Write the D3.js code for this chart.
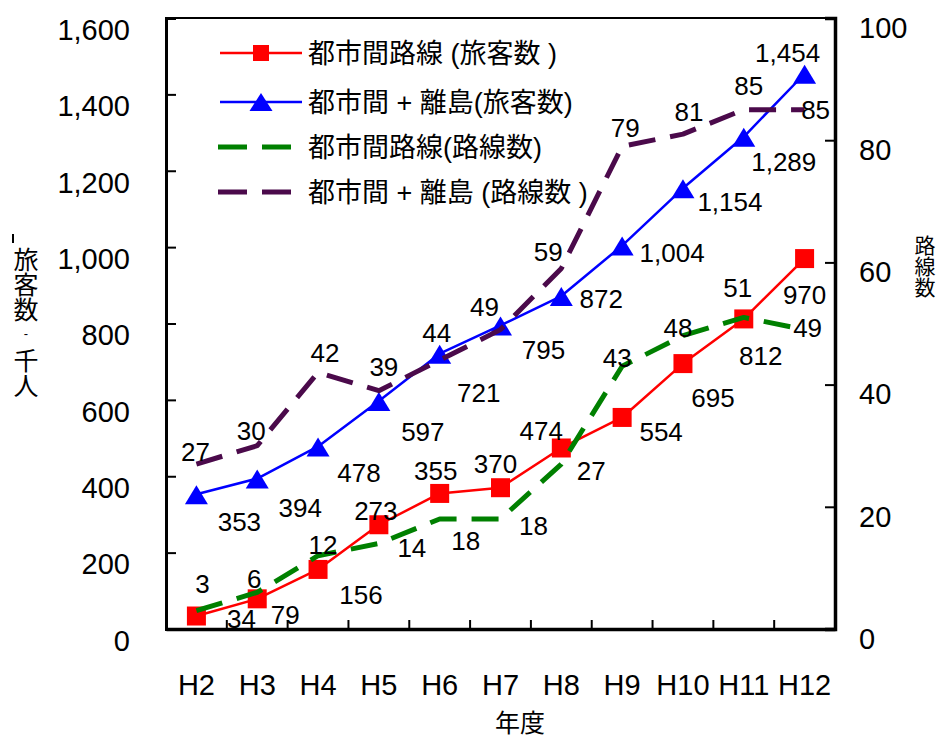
<!DOCTYPE html>
<html>
<head>
<meta charset="utf-8">
<script src="https://cdn.jsdelivr.net/npm/d3@7/dist/d3.min.js"></script>
<style>
  html, body { margin: 0; padding: 0; background: #fff; }
  svg { display: block; font-family: "Liberation Sans", Arial, "Noto Sans CJK JP", sans-serif; }
  .vert { writing-mode: vertical-rl; text-orientation: upright; }
</style>
</head>
<body>
<svg id="chart" width="942" height="740"></svg>
<script>
// ---- data ----
const categories = ["H2","H3","H4","H5","H6","H7","H8","H9","H10","H11","H12"];
const cityPassengers = [34, 79, 156, 273, 355, 370, 474, 554, 695, 812, 970];
const allPassengers = [353, 394, 478, 597, 721, 795, 872, 1004, 1154, 1289, 1454];
const cityRoutes = [3, 6, 12, 14, 18, 18, 27, 43, 48, 51, 49];
const allRoutes = [27, 30, 42, 39, 44, 49, 59, 79, 81, 85, 85];
const leftTicks = [0, 200, 400, 600, 800, 1000, 1200, 1400, 1600];
const rightTicks = [0, 20, 40, 60, 80, 100];
const seriesNames = ["都市間路線 (旅客数 )", "都市間 + 離島(旅客数)", "都市間路線(路線数)", "都市間 + 離島 (路線数 )"];
const xTitle = "年度";
const leftTitleParts = ["旅客数", "-", "千人"];
const rightTitle = "路線数";

// label offsets (relative to each point, label centre)
const cityPassOff = [[45,3],[28,16],[43,25],[-3,-14],[-4,-23],[-5,-24],[-20,-17],[39,14],[30,34],[17,37],[0,36]];
const allPassOff = [[43,27],[43,29],[41,26],[44,31],[39,39],[43,24],[40,3],[50,7],[47,13],[40,25],[-17,-21]];
const cityRouteOff = [[6,-27],[-3,-14],[5,-11],[33,4],[26,22],[33,7],[30,7],[-5,-9],[-5,-8],[-6,-30],[3,-2]];
const allRouteOff = [[-1,-12],[-6,-15],[7,-20],[5,-24],[-3,-28],[-16,-23],[-13,-17],[3,-19],[6,-22],[5,-24],[11,0]];

// ---- layout ----
const L = 166, R = 835, T = 18, B = 629;
const svg = d3.select("#chart");

const x = d3.scaleBand().domain(categories).range([L, R]).paddingInner(0).paddingOuter(0);
const cx = c => x(c) + x.bandwidth() / 2;
const yL = d3.scaleLinear().domain([0, 1600]).range([B, T]);
const yR = d3.scaleLinear().domain([0, 100]).range([B, T]);

const fmt = d3.format(",");
const tickFont = 29, labelFont = 26;

// frame
svg.append("rect").attr("x", L).attr("y", T).attr("width", R - L).attr("height", B - T)
  .attr("fill", "none").attr("stroke", "#000").attr("stroke-width", 2);

// left axis
const gl = svg.append("g").attr("transform", `translate(${L},0)`)
  .call(d3.axisLeft(yL).tickValues(leftTicks).tickFormat(fmt).tickSize(-10).tickPadding(36));
gl.select(".domain").attr("stroke-width", 3);
gl.selectAll(".tick line").attr("stroke-width", 2);
gl.selectAll("text").attr("font-size", tickFont).attr("fill", "#000")
  .attr("font-family", "Liberation Sans, Arial, sans-serif").attr("transform", "translate(0,12)");

// right axis
const gr = svg.append("g").attr("transform", `translate(${R},0)`)
  .call(d3.axisRight(yR).tickValues(rightTicks).tickSize(-10).tickPadding(24));
gr.select(".domain").attr("stroke-width", 3.5);
gr.selectAll(".tick line").attr("stroke-width", 2);
gr.selectAll("text").attr("font-size", tickFont).attr("fill", "#000")
  .attr("font-family", "Liberation Sans, Arial, sans-serif").attr("transform", "translate(0,10)");

// bottom axis (labels at category centres, ticks at boundaries)
const gb = svg.append("g").attr("transform", `translate(0,${B})`)
  .call(d3.axisBottom(x).tickSize(0).tickPadding(45));
gb.select(".domain").attr("stroke-width", 3.5);
gb.selectAll("text").attr("font-size", tickFont).attr("fill", "#000")
  .attr("font-family", "Liberation Sans, Arial, sans-serif");
svg.append("g").selectAll("line").data(categories.slice(1)).join("line")
  .attr("x1", d => x(d)).attr("x2", d => x(d))
  .attr("y1", B).attr("y2", B - 9)
  .attr("stroke", "#000").attr("stroke-width", 2);

// axis titles
svg.append("text").attr("x", 520).attr("y", 732).attr("text-anchor", "middle")
  .attr("font-size", 25).attr("font-family", "Noto Sans CJK JP, sans-serif").text(xTitle);

svg.append("rect").attr("x", 12).attr("y", 234).attr("width", 2).attr("height", 9).attr("fill", "#000");
// left title: vertical groups
svg.append("text").attr("class", "vert").attr("x", 26).attr("y", 284.5)
  .attr("text-anchor", "middle").attr("font-size", 25)
  .attr("font-family", "Noto Sans CJK JP, sans-serif").text(leftTitleParts[0]);
svg.append("text").attr("x", 26).attr("y", 333).attr("dy", "0.36em")
  .attr("text-anchor", "middle").attr("font-size", 13)
  .attr("font-family", "Liberation Sans, Arial, sans-serif").text(leftTitleParts[1]);
svg.append("text").attr("class", "vert").attr("x", 26).attr("y", 372.5)
  .attr("text-anchor", "middle").attr("font-size", 25)
  .attr("font-family", "Noto Sans CJK JP, sans-serif").text(leftTitleParts[2]);

svg.append("text").attr("class", "vert").attr("x", 925).attr("y", 266)
  .attr("text-anchor", "middle").attr("font-size", 21)
  .attr("font-family", "Noto Sans CJK JP, sans-serif").text(rightTitle);

// ---- series ----
const series = [
  { vals: cityPassengers, y: yL, color: "#ff0000", width: 2.5, dash: null, marker: "square", off: cityPassOff },
  { vals: allPassengers, y: yL, color: "#0000ff", width: 2.5, dash: null, marker: "triangle", off: allPassOff },
  { vals: cityRoutes, y: yR, color: "#008000", width: 5, dash: "27,15", marker: null, off: cityRouteOff },
  { vals: allRoutes, y: yR, color: "#4b0a4b", width: 5, dash: "27,15", marker: null, off: allRouteOff }
];

series.forEach(s => {
  const line = d3.line().x((d, i) => cx(categories[i])).y(d => s.y(d));
  svg.append("path").datum(s.vals).attr("d", line)
    .attr("fill", "none").attr("stroke", s.color).attr("stroke-width", s.width)
    .attr("stroke-dasharray", s.dash).attr("stroke-linejoin", "round");
  if (s.marker === "square") {
    svg.append("g").selectAll("rect").data(s.vals).join("rect")
      .attr("x", (d, i) => cx(categories[i]) - 9.5).attr("y", d => s.y(d) - 9.5)
      .attr("width", 19).attr("height", 19).attr("fill", s.color);
  } else if (s.marker === "triangle") {
    svg.append("g").selectAll("path").data(s.vals).join("path")
      .attr("d", (d, i) => {
        const px = cx(categories[i]), py = s.y(d);
        return `M${px - 11.5},${py + 10}L${px + 11.5},${py + 10}L${px},${py - 9}Z`;
      })
      .attr("fill", s.color);
  }
});

// data labels
series.forEach(s => {
  svg.append("g").selectAll("text").data(s.vals).join("text")
    .attr("x", (d, i) => cx(categories[i]) + s.off[i][0])
    .attr("y", (d, i) => s.y(d) + s.off[i][1])
    .attr("dy", "0.36em")
    .attr("text-anchor", "middle")
    .attr("font-size", labelFont)
    .attr("fill", "#000")
    .text(d => fmt(d));
});

// ---- legend ----
const legY = [53, 102, 147, 192];
const leg = svg.append("g");
series.forEach((s, i) => {
  const g = leg.append("g").attr("transform", `translate(0,${legY[i]})`);
  if (s.dash) {
    g.append("line").attr("x1", 218).attr("x2", 292).attr("y1", 0).attr("y2", 0)
      .attr("stroke", s.color).attr("stroke-width", 5).attr("stroke-dasharray", "29,15");
  } else {
    g.append("line").attr("x1", 220).attr("x2", 302).attr("y1", 0).attr("y2", 0)
      .attr("stroke", s.color).attr("stroke-width", 2.5);
    if (s.marker === "square") {
      g.append("rect").attr("x", 261 - 8).attr("y", -8).attr("width", 16).attr("height", 16).attr("fill", s.color);
    } else {
      g.append("path").attr("d", "M249.5,9L272.5,9L261,-9Z").attr("fill", s.color);
    }
  }
  g.append("text").attr("x", 308).attr("y", 0).attr("dy", "0.36em")
    .attr("font-size", 27)
    .attr("font-family", "Liberation Sans, Arial, Noto Sans CJK JP, sans-serif")
    .text(seriesNames[i]);
});
</script>
</body>
</html>
